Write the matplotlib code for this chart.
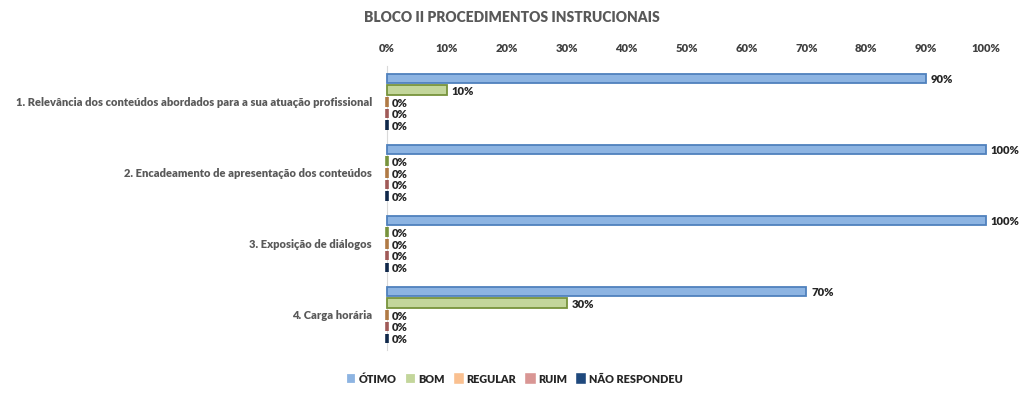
import numpy as np
import matplotlib.pyplot as plt

plt.rcParams['font.family'] = ['Lato', 'DejaVu Sans']

categorias = ['1. Relevância dos conteúdos abordados para a sua atuação profissional',
              '2. Encadeamento de apresentação dos conteúdos',
              '3. Exposição de diálogos',
              '4. Carga horária']
series = ['ÓTIMO', 'BOM', 'REGULAR', 'RUIM', 'NÃO RESPONDEU']
otimo = [90, 100, 100, 70]
bom = [10, 0, 0, 30]
regular = [0, 0, 0, 0]
ruim = [0, 0, 0, 0]
nao_respondeu = [0, 0, 0, 0]
valores = [otimo, bom, regular, ruim, nao_respondeu]

cores = ['#8db4e2', '#c3d69b', '#fac090', '#d99694', '#1f497d']
bordas = ['#4f81bd', '#77933c', '#b07a45', '#a05a58', '#10284a']

fig = plt.figure(figsize=(10.24, 3.95), dpi=100)
ax = fig.add_axes([0.378, 0.113, 0.585, 0.719])

y = np.arange(len(categorias))
passo = 0.165
altura = 0.135
for i, (nome, vals) in enumerate(zip(series, valores)):
    pos = y + (i - 2) * passo
    barras = ax.barh(pos, vals, height=altura, color=cores[i], edgecolor=bordas[i],
                     linewidth=1.3, label=nome, zorder=3)
    for b, v in zip(barras, vals):
        b.set_clip_on(False)
        if v == 0:
            b.set_linewidth(2.6)
    for p, v in zip(pos, vals):
        ax.text(v + 0.8, p + 0.02, '%d%%' % v, va='center', ha='left', fontsize=8.1,
                fontweight='heavy', color='#262626')

ax.set_xlim(0, 100)
ax.set_ylim(len(categorias) - 0.5, -0.5)
ax.set_yticks(y)
ax.set_yticklabels(categorias, fontsize=8.0, fontweight='heavy', color='#595959')
ax.set_xticks(np.arange(0, 101, 10))
ax.set_xticklabels(['%d%%' % t for t in range(0, 101, 10)], fontsize=8.1,
                   fontweight='heavy', color='#404040')
ax.xaxis.tick_top()
ax.tick_params(axis='x', length=0, pad=9)
ax.tick_params(axis='y', length=0, pad=11)
for s in ['top', 'right', 'bottom']:
    ax.spines[s].set_visible(False)
ax.spines['left'].set_color('#d9d9d9')

fig.text(0.5, 0.955, 'BLOCO II PROCEDIMENTOS INSTRUCIONAIS', ha='center', va='center',
         fontsize=10, fontweight='heavy', color='#595959')

leg = fig.legend(loc='center', bbox_to_anchor=(0.503, 0.04), ncol=5, frameon=False,
                 handlelength=0.6, handleheight=0.6, handletextpad=0.4, columnspacing=1.0,
                 prop={'size': 7.8, 'weight': 'heavy'})
for t in leg.get_texts():
    t.set_color('#262626')
for h, c in zip(leg.legend_handles, cores):
    h.set_edgecolor(c)

fig.savefig('out.png', dpi=100)
